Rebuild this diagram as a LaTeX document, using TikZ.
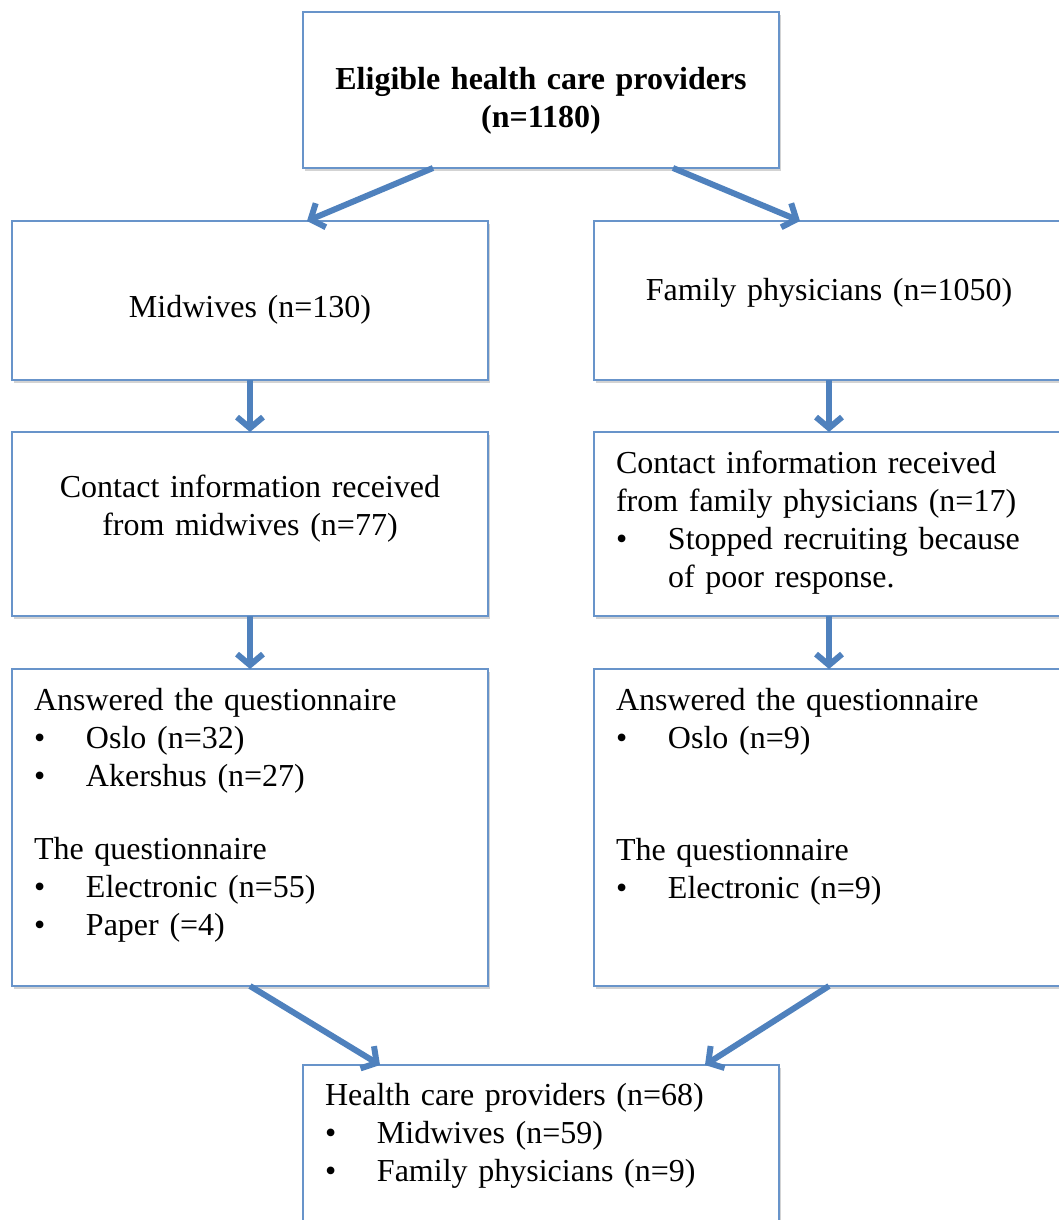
\documentclass[tikz,border=0pt]{standalone}
\usepackage{fontspec}
\setmainfont{Liberation Serif}
\usepackage{tikz}
\usetikzlibrary{arrows.meta,positioning,shadows}
\definecolor{flechaazul}{RGB}{79,129,189}
\definecolor{bordeazul}{RGB}{104,148,202}
\tikzstyle{caja}=[rectangle,draw=bordeazul,line width=1pt,fill=white,outer sep=0,inner ysep=0,inner xsep=11pt,drop shadow={shadow xshift=0.8pt,shadow yshift=-1.6pt,opacity=0.35}]
\tikzstyle{izq}=[caja,minimum width=238pt,text width=216pt]
\tikzstyle{der}=[caja,minimum width=235pt,text width=213pt]
\tikzstyle{flecha}=[->,draw=flechaazul,line width=3pt]
\newcommand{\punto}[1]{\makebox[26pt][l]{\textbullet}#1}

\begin{document}
\begin{tikzpicture}[x=0.5pt,y=-0.5pt,>={Straight Barb[length=5.5pt,width=13pt]},every node/.style={font=\fontsize{16}{19}\selectfont}]
	\useasboundingbox (0,0) rectangle (1059,1220);
	\node[izq,align=center,anchor=north west,text height=39pt,text depth=39pt](elig) at (303,12){\textbf{Eligible health care providers}\\\textbf{(n=1180)}};
	\node[izq,align=center,anchor=north west,text height=48pt,text depth=31.5pt](mid) at (12,221){Midwives (n=130)};
	\node[der,align=center,text height=39.5pt,text depth=40pt](fam)[right =53pt of mid]{Family physicians (n=1050)};
	\node[izq,align=center,text height=32.5pt,text depth=59.5pt](cmid)[below =26pt of mid]{Contact information received\\from midwives (n=77)};
	\node[der,align=left,text height=20.5pt,text depth=71.5pt](cfam)[below =26pt of fam]{Contact information received\\from family physicians (n=17)\\\punto{Stopped recruiting because}\\\hspace*{26pt}of poor response.};
	\node[izq,align=left,text height=20.5pt,text depth=138pt](amid)[below =26.5pt of cmid]{Answered the questionnaire\\\punto{Oslo (n=32)}\\\punto{Akershus (n=27)}\\[17.5pt]The questionnaire\\\punto{Electronic (n=55)}\\\punto{Paper (=4)}};
	\node[der,align=left,text height=20.5pt,text depth=138pt](afam)[below =26.5pt of cfam]{Answered the questionnaire\\\punto{Oslo (n=9)}\\[37pt]The questionnaire\\\punto{Electronic (n=9)}};
	\node[izq,align=left,anchor=north west,text height=20pt,text depth=67.5pt](hcp) at (303,1065){Health care providers (n=68)\\\punto{Midwives (n=59)}\\\punto{Family physicians (n=9)}};
	\draw[flecha]([xshift=65pt]elig.south west) -- ([xshift=147.5pt]mid.north west);
	\draw[flecha]([xshift=185pt]elig.south west) -- ([xshift=103pt]fam.north west);
	\draw[flecha](mid.south) -- (cmid.north);
	\draw[flecha](fam.south) -- (cfam.north);
	\draw[flecha](cmid.south) -- (amid.north);
	\draw[flecha](cfam.south) -- (afam.north);
	\draw[flecha](amid.south) -- ([xshift=38.5pt]hcp.north west);
	\draw[flecha](afam.south) -- ([xshift=201pt]hcp.north west);
\end{tikzpicture}
\end{document}
